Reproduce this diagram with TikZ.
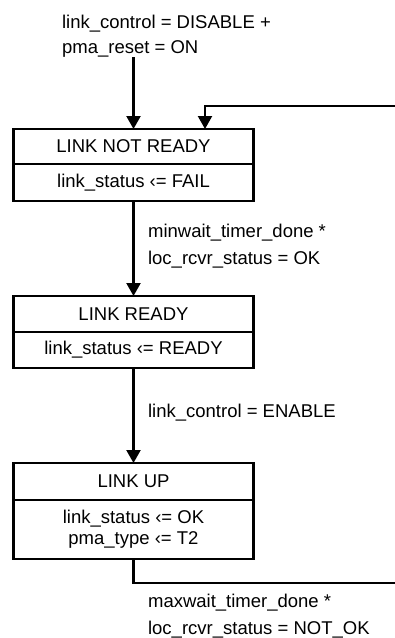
\documentclass[tikz,border=0pt]{standalone}
\usepackage{fontspec}
\setmainfont{Liberation Sans}
\usetikzlibrary{arrows.meta, positioning}

\begin{document}
\begin{tikzpicture}[x=1pt, y=-1pt, line width=2.2pt,
    tip/.style={-{Triangle[length=13pt, width=14pt]}},
    state/.style={draw, minimum width=240pt, inner sep=0pt, outer sep=0pt, font=\fontsize{18.5}{21}\selectfont, align=center},
    cond/.style={anchor=north west, inner sep=0pt, align=left, font=\fontsize{18.5}{27}\selectfont}]
  \useasboundingbox (0,0) rectangle (395,638);
  % entry condition
  \node[cond, font=\fontsize{18.5}{25}\selectfont] (reset) at (61,13.5) {link\_control = DISABLE +\\pma\_reset = ON};
  \coordinate (resetend) at (133.5,57);
  % states
  \node[state, minimum height=35pt] (notready) at (133.5,146.5) {LINK NOT READY};
  \node[state, minimum height=37pt, below=0pt of notready] (notreadyact) {link\_status ‹= FAIL};
  \node[state, minimum height=36pt] (ready) at (133.5,314) {LINK READY};
  \node[state, minimum height=36pt, below=0pt of ready] (readyact) {link\_status ‹= READY};
  \node[state, minimum height=37pt] (up) at (133.5,481.5) {LINK UP};
  \node[state, minimum height=59pt, below=0pt of up] (upact) {link\_status ‹= OK\\pma\_type ‹= T2};
  % transition conditions
  \node[cond] (minwait) at (147,222.5) {minwait\_timer\_done *\\loc\_rcvr\_status = OK};
  \node[cond] (enable) at (147,402.5) {link\_control = ENABLE};
  \node[cond] (maxwait) at (147,593) {maxwait\_timer\_done *\\loc\_rcvr\_status = NOT\_OK};
  % transitions
  \coordinate (loopin) at (395,106);
  \coordinate (loopout) at (395,583);
  \draw[tip] (resetend) -- (notready.north);
  \draw[tip] (loopin) -| ([xshift=71.5pt]notready.north);
  \draw[tip] (notreadyact.south) -- (ready.north);
  \draw[tip] (readyact.south) -- (up.north);
  \draw (upact.south) |- (loopout);
\end{tikzpicture}
\end{document}
